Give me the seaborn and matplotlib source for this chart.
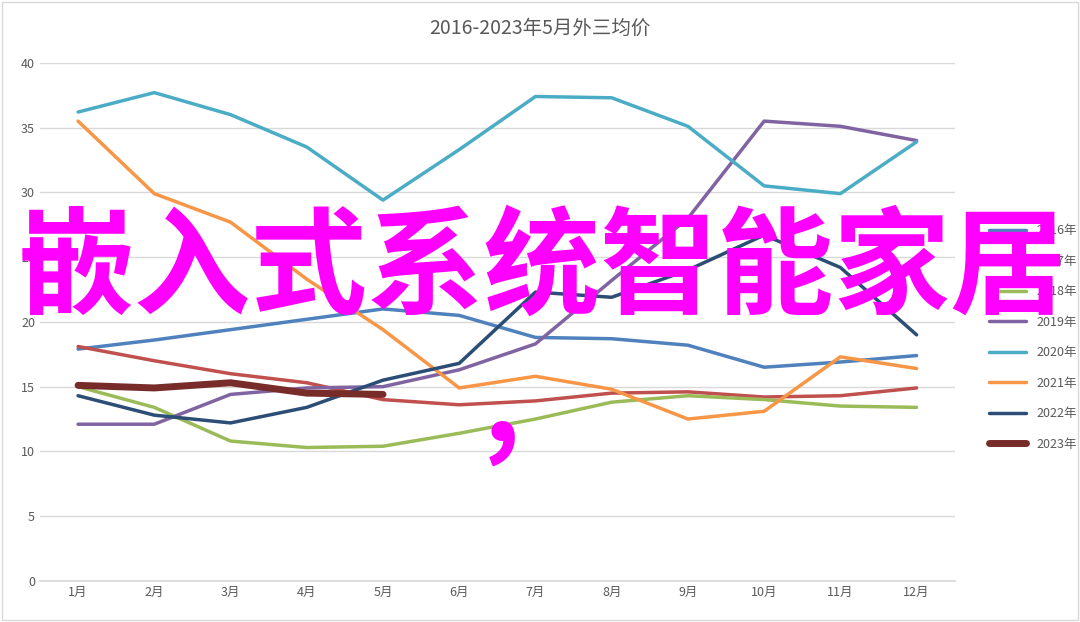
import matplotlib
matplotlib.use("Agg")
import matplotlib.pyplot as plt
import seaborn as sns
import pandas as pd

months = ["1月","2月","3月","4月","5月","6月","7月","8月","9月","10月","11月","12月"]
y2016 = [17.9,18.6,19.4,20.2,21.0,20.5,18.8,18.7,18.2,16.5,16.9,17.4]
y2017 = [18.1,17.0,16.0,15.3,14.0,13.6,13.9,14.5,14.6,14.2,14.3,14.9]
y2018 = [15.0,13.4,10.8,10.3,10.4,11.4,12.5,13.8,14.3,14.0,13.5,13.4]
y2019 = [12.1,12.1,14.4,14.9,15.0,16.3,18.3,23.2,28.0,35.5,35.1,34.0]
y2020 = [36.2,37.7,36.0,33.5,29.4,33.3,37.4,37.3,35.1,30.5,29.9,33.9]
y2021 = [35.5,29.9,27.7,23.3,19.4,14.9,15.8,14.8,12.5,13.1,17.3,16.4]
y2022 = [14.3,12.8,12.2,13.4,15.5,16.8,22.3,21.9,24.0,26.7,24.2,19.0]
y2023 = [15.1,14.9,15.3,14.5,14.4]
series = ["2016年","2017年","2018年","2019年","2020年","2021年","2022年","2023年"]
colors = ["#4f81bd","#c0504d","#9bbb59","#8064a2","#4bacc6","#f79646","#2c4d75","#772c2a"]

sns.set_theme(style="white")
plt.rcParams['font.family'] = ['Noto Sans CJK SC', 'DejaVu Sans']

rows = []
for name, vals in zip(series, [y2016,y2017,y2018,y2019,y2020,y2021,y2022,y2023]):
    for i, v in enumerate(vals):
        rows.append({"month": i, "value": v, "series": name})
df = pd.DataFrame(rows)

fig = plt.figure(figsize=(10.8, 6.22), dpi=100)
ax = fig.add_axes([0.037, 0.066, 0.847, 0.833])
for name, c in zip(series, colors):
    d = df[df.series == name]
    sns.lineplot(data=d, x="month", y="value", ax=ax, color=c,
                 lw=5 if name == "2023年" else 2.5, label=name)
ax.set_xlim(-0.5, 11.5)
ax.set_ylim(0, 40)
ax.set_yticks(range(0, 41, 5))
ax.set_xticks(range(12))
ax.set_xticklabels(months)
ax.tick_params(labelsize=9, colors="#595959", length=0)
ax.grid(axis="y", color="#d9d9d9", lw=1)
for s in ax.spines.values():
    s.set_visible(False)
ax.spines["bottom"].set_visible(True)
ax.spines["bottom"].set_color("#d9d9d9")
ax.set_xlabel(""); ax.set_ylabel("")
ax.legend(loc="center left", bbox_to_anchor=(1.025, 0.47), frameon=False,
          fontsize=9, labelspacing=1.4, handlelength=3,
          labelcolor="#595959")
fig.text(0.5, 0.955, "2016-2023年5月外三均价", ha="center", va="center",
         fontsize=14, color="#595959")
fig.text(0.502, 0.565, "嵌入式系统智能家居", ha="center", va="center",
         fontsize=84, color="#ff00ff", fontweight="bold")
fig.text(0.465, 0.345, ",", ha="center", va="center",
         fontsize=84, color="#ff00ff", fontweight="bold")
fig.patches.append(plt.Rectangle((0.002, 0.003), 0.996, 0.994, transform=fig.transFigure,
                                 fill=False, ec="#d9d9d9", lw=1))
fig.savefig("out.png", dpi=100)
